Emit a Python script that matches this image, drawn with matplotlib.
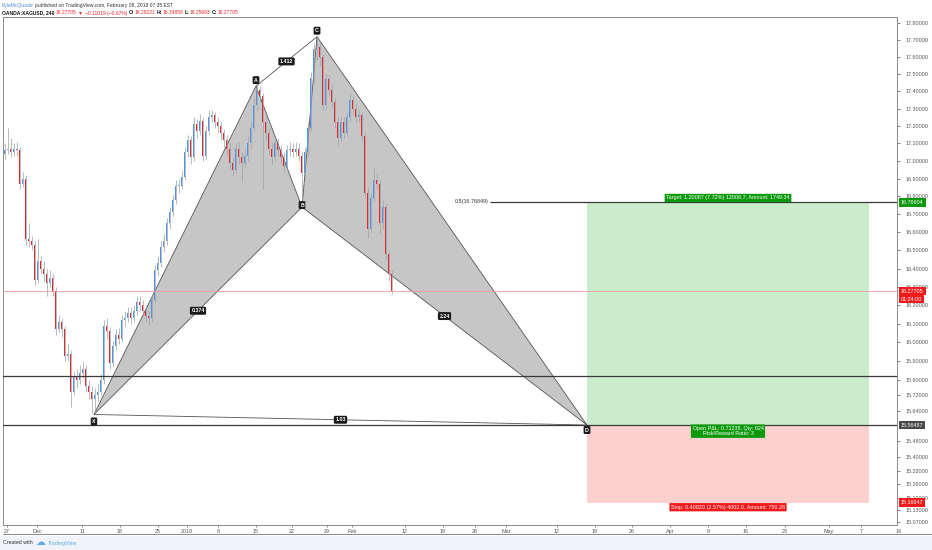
import matplotlib
matplotlib.use('Agg')
import matplotlib.pyplot as plt
from matplotlib.ticker import FixedLocator, NullLocator, FuncFormatter
from matplotlib.patches import Polygon, Rectangle
from matplotlib.lines import Line2D
import numpy as np

plt.rcParams['font.family'] = ['Liberation Sans', 'DejaVu Sans']

# ---------------- data ----------------
first_open = 17.04
closes = [
    17.06, 17.07, 17.05, 17.07, 17.06, 16.87, 16.90, 16.56, 16.55, 16.53,
    16.34, 16.44, 16.40, 16.37, 16.32, 16.35, 16.28, 16.07, 16.11, 16.07,
    15.93, 15.94, 15.74, 15.82, 15.80, 15.84, 15.86, 15.77, 15.74, 15.70,
    15.72, 15.74, 15.80, 16.09, 16.06, 15.89, 15.98, 16.04, 16.02, 16.12,
    16.13, 16.16, 16.13, 16.17, 16.22, 16.20, 16.17, 16.14, 16.13, 16.23,
    16.39, 16.43, 16.52, 16.55, 16.65, 16.71, 16.78, 16.86, 16.86, 16.91,
    17.05, 17.12, 17.02, 17.21, 17.17, 17.23, 17.03, 17.17, 17.25, 17.26,
    17.22, 17.20, 17.16, 17.12, 17.07, 16.99, 16.95, 17.07, 17.02, 16.99,
    17.03, 17.10, 17.19, 17.32, 17.41, 17.37, 17.22, 17.16, 17.07, 17.02,
    17.10, 17.06, 17.02, 16.97, 17.06, 17.07, 17.05, 17.07, 17.03, 16.93,
    17.05, 17.19, 17.48, 17.65, 17.66, 17.60, 17.32, 17.47, 17.41, 17.34,
    17.22, 17.13, 17.22, 17.16, 17.25, 17.35, 17.30, 17.25, 17.26, 17.14,
    16.82, 16.62, 16.79, 16.89, 16.87, 16.65, 16.74, 16.48, 16.37, 16.277,
]
highs = [
    17.10, 17.19, 17.13, 17.10, 17.11, 17.08, 16.94, 16.92, 16.65, 16.58,
    16.55, 16.56, 16.47, 16.44, 16.40, 16.39, 16.37, 16.30, 16.15, 16.13,
    16.09, 15.99, 15.96, 15.85, 15.86, 15.88, 15.90, 15.88, 15.80, 15.77,
    15.76, 15.78, 15.83, 16.12, 16.13, 16.08, 16.01, 16.07, 16.08, 16.15,
    16.17, 16.19, 16.19, 16.20, 16.25, 16.25, 16.23, 16.20, 16.17, 16.26,
    16.42, 16.47, 16.55, 16.59, 16.68, 16.74, 16.81, 16.89, 16.90, 16.95,
    17.08, 17.15, 17.14, 17.25, 17.24, 17.27, 17.25, 17.20, 17.29, 17.29,
    17.28, 17.25, 17.22, 17.18, 17.15, 17.10, 17.02, 17.10, 17.11, 17.05,
    17.07, 17.14, 17.23, 17.36, 17.44, 17.43, 17.39, 17.26, 17.19, 17.10,
    17.13, 17.13, 17.09, 17.05, 17.09, 17.11, 17.10, 17.11, 17.10, 17.05,
    17.08, 17.22, 17.51, 17.68, 17.72, 17.69, 17.62, 17.50, 17.50, 17.44,
    17.36, 17.25, 17.25, 17.25, 17.28, 17.39, 17.37, 17.33, 17.29, 17.28,
    17.16, 16.85, 16.82, 16.96, 16.93, 16.89, 16.78, 16.76, 16.50, 16.39,
]
lows = [
    17.01, 17.04, 17.02, 17.03, 17.03, 16.84, 16.85, 16.53, 16.52, 16.50,
    16.31, 16.32, 16.37, 16.33, 16.25, 16.30, 16.25, 16.04, 16.05, 16.03,
    15.90, 15.90, 15.66, 15.72, 15.76, 15.78, 15.81, 15.74, 15.70, 15.63,
    15.62, 15.69, 15.72, 15.78, 16.02, 15.86, 15.87, 15.96, 15.99, 16.00,
    16.09, 16.11, 16.10, 16.11, 16.15, 16.17, 16.14, 16.11, 16.10, 16.11,
    16.21, 16.36, 16.41, 16.49, 16.53, 16.62, 16.69, 16.76, 16.82, 16.84,
    16.89, 17.02, 16.98, 17.00, 17.13, 17.15, 17.00, 17.01, 17.15, 17.22,
    17.19, 17.16, 17.12, 17.08, 17.03, 16.95, 16.92, 16.93, 16.98, 16.88,
    16.96, 17.00, 17.07, 17.17, 17.29, 17.33, 16.84, 17.12, 17.04, 16.98,
    17.00, 17.03, 16.99, 16.94, 16.95, 17.03, 17.02, 17.03, 17.00, 16.74,
    16.90, 17.03, 17.17, 17.45, 17.58, 17.55, 17.29, 17.30, 17.38, 17.31,
    17.19, 17.09, 17.11, 17.13, 17.14, 17.23, 17.27, 17.22, 17.22, 17.11,
    16.79, 16.57, 16.60, 16.77, 16.84, 16.59, 16.62, 16.45, 16.33, 16.26,
]
opens = [first_open] + closes[:-1]

pattern_names = ['X', 'A', 'B', 'C', 'D']
pattern_bar = [29.83, 83.83, 99.17, 104.17, 194.17]
pattern_price = [15.62, 17.43, 16.74, 17.72, 15.565]
ratio_labels = {'XB': '0.374', 'AC': '1.412', 'BD': '2.24', 'XD': '1.03'}

level_half = 16.76849
level_half_start = 161.8
level_support = 15.82
entry_price = 15.56487
target_price = 16.76604
stop_price = 15.16647
last_price = 16.27705
position_start, position_end = 194.17, 288.17

ytick_values = [17.8, 17.7, 17.6, 17.5, 17.4, 17.3, 17.2, 17.1, 17.0, 16.9,
                16.8, 16.7, 16.6, 16.5, 16.4, 16.3, 16.2, 16.1, 16.0, 15.9,
                15.8, 15.72, 15.64, 15.48, 15.40, 15.33, 15.26, 15.19, 15.13, 15.07]
xtick_pos = [0.83, 10.83, 25.83, 38.5, 51.17, 60.83, 71.17, 83.83, 95.83, 107.5,
             115.83, 133.5, 146.17, 156.83, 167.17, 184.17, 196.83, 209.17, 221.83,
             234.5, 247.17, 260.17, 274.83, 285.5]
xtick_labels = ['27', 'Dec', '11', '18', '25', '2018', '8', '15', '22', '29',
                'Feb', '12', '19', '26', 'Mar', '12', '19', '26', 'Apr',
                '9', '16', '23', 'May', '7']
extra_tick_pos, extra_tick_label = 298.17, '14'

# ---------------- figure ----------------
W, H = 932, 550
fig = plt.figure(figsize=(W / 100, H / 100), dpi=100)
fig.patch.set_facecolor('white')
ax = fig.add_axes([3 / W, 25 / H, 894 / W, 508 / H])
ax.set_yscale('log')
ax.set_xlim(-0.5, 297.5)
ax.set_ylim(15.054, 17.837)
ax.set_facecolor('white')

# footer strip
fig.patches.append(Rectangle((0, 0), 1, 14 / H, transform=fig.transFigure,
                             facecolor='#f0f3f9', edgecolor='none', zorder=-5))
fig.lines.append(Line2D([3 / W, 1], [16 / H, 16 / H], transform=fig.transFigure,
                        color='#8a8a8a', lw=0.7))

# position tool
ax.add_patch(Rectangle((position_start, entry_price), position_end - position_start,
                       target_price - entry_price, facecolor='#cbeccb', edgecolor='none', zorder=1))
ax.add_patch(Rectangle((position_start, stop_price), position_end - position_start,
                       entry_price - stop_price, facecolor='#fdd0d0', edgecolor='none', zorder=1))

# harmonic pattern
pts = list(zip(pattern_bar, pattern_price))
X, A, B, C, D = pts
for tri in ([X, A, B], [B, C, D]):
    ax.add_patch(Polygon(tri, closed=True, facecolor='#c6c6c6', edgecolor='#555555',
                         lw=0.6, zorder=2))
for p, q in ((A, C), (X, D)):
    ax.plot([p[0], q[0]], [p[1], q[1]], color='#555555', lw=0.6, zorder=2)

# horizontal levels
ax.axhline(level_support, color='#3a3a3a', lw=0.9, zorder=4)
ax.axhline(entry_price, color='#3a3a3a', lw=0.9, zorder=4)
ax.hlines(level_half, level_half_start, 297.5, color='#3a3a3a', lw=0.9, zorder=4)
ax.axhline(last_price, color='#f39a9a', lw=0.6, zorder=4)
ax.text(level_half_start - 0.4, level_half, '0.5(16.76849)', ha='right', va='center',
        fontsize=3.9, color='#333333', zorder=6)

# candles
xs = np.arange(len(closes))
o = np.array(opens); c = np.array(closes)
up = c >= o
ax.vlines(xs, lows, highs, color='#9aa0aa', lw=0.5, zorder=3)
body_lo = np.minimum(o, c)
body_h = np.maximum(np.abs(c - o), 0.006)
ax.bar(xs[up], body_h[up], bottom=body_lo[up], width=0.58, color='#4f93e8', lw=0, zorder=3.5)
ax.bar(xs[~up], body_h[~up], bottom=body_lo[~up], width=0.58, color='#e8262a', lw=0, zorder=3.5)

# pattern labels
label_box = dict(boxstyle='round,pad=0.28,rounding_size=0.25', fc='#1b1b1b', ec='none')
offsets = {'X': (0, -7), 'A': (0, 6), 'B': (0, 2), 'C': (0, 6), 'D': (0, -5)}
for name, (bx, by) in zip(pattern_names, pts):
    ax.annotate(name, xy=(bx, by), xytext=offsets[name], textcoords='offset pixels',
                ha='center', va='center', fontsize=3.8, fontweight='bold', color='white',
                bbox=label_box, zorder=8)
seg = {'XB': (X, B), 'AC': (A, C), 'BD': (B, D), 'XD': (X, D)}
for key, txt in ratio_labels.items():
    p, q = seg[key]
    mx = (p[0] + q[0]) / 2
    my = np.sqrt(p[1] * q[1])
    ax.annotate(txt, xy=(mx, my), ha='center', va='center', fontsize=3.8,
                fontweight='bold', color='white', bbox=label_box, zorder=8)

# position labels
mid = (position_start + position_end) / 2
green = '#0c9a0c'
red_box = '#f11a1a'
ax.annotate('Target: 1.20087 (7.72%) 12008.7, Amount: 1749.34', xy=(mid, target_price),
            xytext=(0, 2), textcoords='offset pixels', ha='center', va='bottom',
            fontsize=3.9, color='white',
            bbox=dict(boxstyle='round,pad=0.3,rounding_size=0.15', fc=green, ec='none'), zorder=8)
ax.annotate('Open P&L: 0.71238, Qty: 624\nRisk/Reward Ratio: 3', xy=(mid, entry_price),
            xytext=(0, -1), textcoords='offset pixels', ha='center', va='top',
            fontsize=3.9, color='white', linespacing=1.05, multialignment='center',
            bbox=dict(boxstyle='round,pad=0.3,rounding_size=0.15', fc=green, ec='none'), zorder=8)
ax.annotate('Stop: 0.40020 (2.57%) 4002.0, Amount: 750.28', xy=(mid, stop_price),
            xytext=(0, -2), textcoords='offset pixels', ha='center', va='top',
            fontsize=3.9, color='white',
            bbox=dict(boxstyle='round,pad=0.3,rounding_size=0.15', fc=red_box, ec='none'), zorder=8)

# axes styling
for s in ax.spines.values():
    s.set_color('#8a8a8a')
    s.set_linewidth(0.7)
ax.yaxis.tick_right()
ax.yaxis.set_major_locator(FixedLocator(ytick_values))
ax.yaxis.set_minor_locator(NullLocator())
ax.yaxis.set_major_formatter(FuncFormatter(lambda v, p: f'{v:.5f}'))
ax.yaxis.set_minor_formatter(FuncFormatter(lambda v, p: ''))
ax.tick_params(axis='y', which='major', direction='out', length=2, width=0.5,
               colors='#555555', labelsize=3.9, pad=4)
ax.tick_params(axis='y', which='minor', length=0)
ax.xaxis.set_major_locator(FixedLocator(xtick_pos))
ax.set_xticklabels(xtick_labels)
ax.tick_params(axis='x', direction='out', length=1.6, width=0.5, colors='#555555',
               labelsize=3.9, pad=1.2)
ax.annotate(extra_tick_label, xy=(extra_tick_pos, 0), xycoords=('data', 'axes fraction'),
            xytext=(0, -4), textcoords='offset pixels', ha='center', va='top',
            fontsize=3.9, color='#555555', annotation_clip=False)

# price labels on the axis
def axis_label(price, txt, color, dy=0):
    ax.annotate(txt, xy=(1, price), xycoords=('axes fraction', 'data'),
                xytext=(4, dy), textcoords='offset pixels', ha='left', va='center',
                fontsize=3.9, color='white', annotation_clip=False, zorder=10,
                bbox=dict(boxstyle='square,pad=0.35', fc=color, ec='none'))

axis_label(target_price, f'{target_price:.5f}', '#0c9a0c')
axis_label(last_price, f'{last_price:.5f}', '#f01c1c')
axis_label(last_price, '01:24:00', '#f01c1c', dy=-8)
axis_label(entry_price, f'{entry_price:.5f}', '#4a4a4a')
axis_label(stop_price, f'{stop_price:.5f}', '#f01c1c')

# header text chains
def chain(x_px, y_px, parts, size):
    prev = None
    for text, color, weight, gap in parts:
        if prev is None:
            prev = fig.text(x_px / W, 1 - y_px / H, text, color=color, fontsize=size,
                            fontweight=weight, ha='left', va='center', zorder=20)
        else:
            prev = ax.annotate(text, xy=(1, 0), xycoords=prev, xytext=(gap, 0),
                               textcoords='offset pixels', ha='left', va='bottom',
                               color=color, fontsize=size, fontweight=weight,
                               annotation_clip=False, zorder=20)

red = '#e8262a'
chain(2, 6, [('KyleMcQuade', '#4a90d9', 'normal', 0),
             ('published on TradingView.com, February 08, 2018 07:35 EST', '#333333', 'normal', 1.5)], 3.6)
chain(2, 13, [('OANDA:XAGUSD, 240', '#111111', 'bold', 0),
              ('16.27705', red, 'normal', 1.5),
              ('\u25BC', red, 'normal', 1.5),
              ('\u22120.11019 (\u22120.67%)', red, 'normal', 1.5),
              ('O:', '#111111', 'bold', 1.5), ('16.29221', red, 'normal', 0.5),
              ('H:', '#111111', 'bold', 1.5), ('16.34858', red, 'normal', 0.5),
              ('L:', '#111111', 'bold', 1.5), ('16.25683', red, 'normal', 0.5),
              ('C:', '#111111', 'bold', 1.5), ('16.27705', red, 'normal', 0.5)], 3.6)

# footer
fig.text(3 / W, 1 - 543 / H, 'Created with', color='#333333', fontsize=3.8,
         ha='left', va='center', zorder=20)
fig.text(35 / W, 1 - 542 / H, '\u2601', color='#5aaee0', fontsize=7,
         family='DejaVu Sans', ha='left', va='center', zorder=20)
fig.text(48 / W, 1 - 543 / H, 'TradingView', color='#5aaee0', fontsize=3.8,
         ha='left', va='center', zorder=20)

fig.savefig('out.png', dpi=100, facecolor='white')
